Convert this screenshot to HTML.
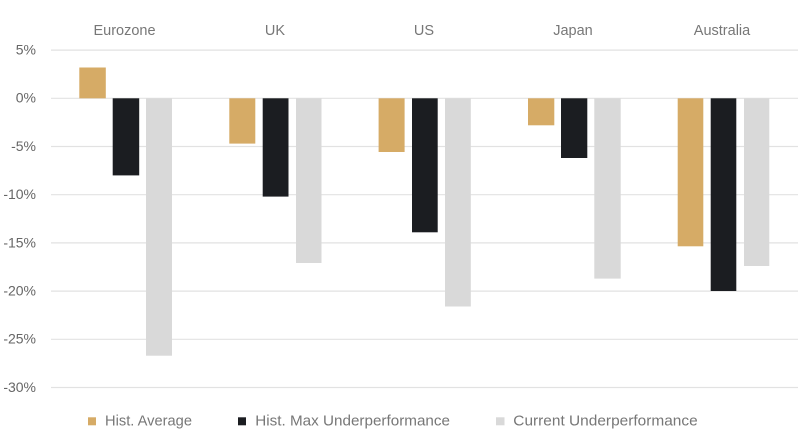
<!DOCTYPE html>
<html><head><meta charset="utf-8"><style>
html,body{margin:0;padding:0;background:#fff;}
svg{display:block;}
text{font-family:"Liberation Sans",sans-serif;}
</style></head><body>
<svg width="800" height="430" viewBox="0 0 800 430" xmlns="http://www.w3.org/2000/svg">
<g stroke="#e2e2e2" stroke-width="1.2">
<line x1="51" x2="798" y1="50.1" y2="50.1"/>
<line x1="51" x2="798" y1="98.3" y2="98.3"/>
<line x1="51" x2="798" y1="146.5" y2="146.5"/>
<line x1="51" x2="798" y1="194.7" y2="194.7"/>
<line x1="51" x2="798" y1="242.9" y2="242.9"/>
<line x1="51" x2="798" y1="291.1" y2="291.1"/>
<line x1="51" x2="798" y1="339.3" y2="339.3"/>
<line x1="51" x2="798" y1="387.5" y2="387.5"/>
</g>
<g font-size="14" fill="#666" text-anchor="end">
<text x="36" y="54.5">5%</text>
<text x="36" y="102.7">0%</text>
<text x="36" y="150.9">-5%</text>
<text x="36" y="199.1">-10%</text>
<text x="36" y="247.3">-15%</text>
<text x="36" y="295.5">-20%</text>
<text x="36" y="343.7">-25%</text>
<text x="36" y="391.9">-30%</text>
</g>
<g font-size="14.5" fill="#777" text-anchor="middle">
<text x="124.5" y="35">Eurozone</text>
<text x="275" y="35">UK</text>
<text x="424" y="35">US</text>
<text x="573" y="35">Japan</text>
<text x="722" y="35">Australia</text>
</g>
<!-- Eurozone -->
<rect x="79.3" y="67.5" width="26.5" height="30.8" fill="#d6ab66"/>
<rect x="112.7" y="98.3" width="26.5" height="77.1" fill="#1b1d21"/>
<rect x="146" y="98.3" width="26" height="257.4" fill="#d9d9d9"/>
<!-- UK -->
<rect x="229.3" y="98.3" width="26" height="45.3" fill="#d6ab66"/>
<rect x="262.7" y="98.3" width="25.8" height="98.3" fill="#1b1d21"/>
<rect x="296" y="98.3" width="25.5" height="164.7" fill="#d9d9d9"/>
<!-- US -->
<rect x="378.6" y="98.3" width="26" height="53.7" fill="#d6ab66"/>
<rect x="412" y="98.3" width="25.7" height="134" fill="#1b1d21"/>
<rect x="445" y="98.3" width="25.8" height="208.2" fill="#d9d9d9"/>
<!-- Japan -->
<rect x="528" y="98.3" width="26.3" height="27" fill="#d6ab66"/>
<rect x="561" y="98.3" width="26.3" height="59.7" fill="#1b1d21"/>
<rect x="594.3" y="98.3" width="26.4" height="180.3" fill="#d9d9d9"/>
<!-- Australia -->
<rect x="677.7" y="98.3" width="25.6" height="148" fill="#d6ab66"/>
<rect x="710.7" y="98.3" width="25.6" height="192.7" fill="#1b1d21"/>
<rect x="744" y="98.3" width="25.3" height="167.7" fill="#d9d9d9"/>
<!-- Legend -->
<rect x="88" y="417.3" width="8" height="8" fill="#d6ab66"/>
<rect x="238" y="417.3" width="8" height="8" fill="#1b1d21"/>
<rect x="496" y="417.3" width="8.5" height="8" fill="#d9d9d9"/>
<g font-size="14.5" fill="#777">
<text x="105" y="425.7" textLength="87" lengthAdjust="spacingAndGlyphs">Hist. Average</text>
<text x="255.3" y="425.7" textLength="194.7" lengthAdjust="spacingAndGlyphs">Hist. Max Underperformance</text>
<text x="513.3" y="425.7" textLength="184.4" lengthAdjust="spacingAndGlyphs">Current Underperformance</text>
</g>
</svg>
</body></html>
